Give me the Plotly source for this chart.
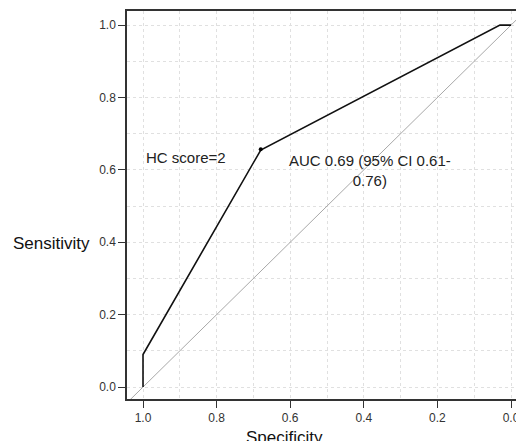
import plotly.graph_objects as go

specificity = [1.0, 1.0, 0.68, 0.03, 0.0]
sensitivity = [0.0, 0.09, 0.655, 1.0, 1.0]
cut_spec = [0.68]
cut_sens = [0.657]
ref_x = [1.2, -0.2]
ref_y = [-0.2, 1.2]
tick_vals = [1.0, 0.8, 0.6, 0.4, 0.2, 0.0]
tick_text = ["1.0", "0.8", "0.6", "0.4", "0.2", "0.0"]

FONT = "Arial, Liberation Sans, sans-serif"

fig = go.Figure()
fig.add_trace(go.Scatter(x=ref_x, y=ref_y, mode="lines",
                         line=dict(color="#a8a8a8", width=1), hoverinfo="skip"))
fig.add_trace(go.Scatter(x=specificity, y=sensitivity, mode="lines",
                         line=dict(color="#111111", width=1.6)))
fig.add_trace(go.Scatter(x=cut_spec, y=cut_sens, mode="markers",
                         marker=dict(color="#000000", size=4)))

fig.add_annotation(x=0.883, y=0.635, xref="x", yref="y", text="HC score=2",
                   showarrow=False, font=dict(size=15, color="#222222", family=FONT))
fig.add_annotation(x=0.383, y=0.599, xref="x", yref="y",
                   text="AUC 0.69 (95% CI 0.61-<br>0.76)", align="center",
                   showarrow=False, font=dict(size=15, color="#222222", family=FONT))
fig.add_annotation(x=-0.09, y=0.402, xref="paper", yref="paper", text="Sensitivity",
                   xanchor="right", yanchor="middle", showarrow=False,
                   font=dict(size=17, color="#111111", family=FONT))
fig.add_annotation(x=0.4036, y=-0.07, xref="paper", yref="paper", text="Specificity",
                   xanchor="center", yanchor="top", showarrow=False,
                   font=dict(size=17, color="#111111", family=FONT))

axis_common = dict(
    tickmode="array", tickvals=tick_vals, ticktext=tick_text,
    ticks="outside", ticklen=7, tickcolor="#333333", tickwidth=1.2,
    showline=True, linecolor="#333333", linewidth=1.5,
    showgrid=True, gridcolor="#e0e0e0", griddash="dot", gridwidth=1,
    minor=dict(dtick=0.1, tick0=0, showgrid=True, gridcolor="#e0e0e0", griddash="dot", gridwidth=1),
    zeroline=False, automargin=False, ticklabeloverflow="allow",
    tickfont=dict(size=12, color="#333333", family=FONT),
)

fig.update_xaxes(range=[1.0435, -0.0136], mirror=True, **axis_common)
fig.update_yaxes(range=[-0.033, 1.039], mirror=False, **axis_common)

fig.update_layout(
    width=516, height=441,
    margin=dict(l=127, r=0, t=11, b=42, autoexpand=False),
    paper_bgcolor="white", plot_bgcolor="white",
    showlegend=False,
    font=dict(family=FONT),
)

fig.write_html("out.html", config={"displayModeBar": False},
               post_script="document.body.style.margin='0';document.body.style.overflow='hidden';")
